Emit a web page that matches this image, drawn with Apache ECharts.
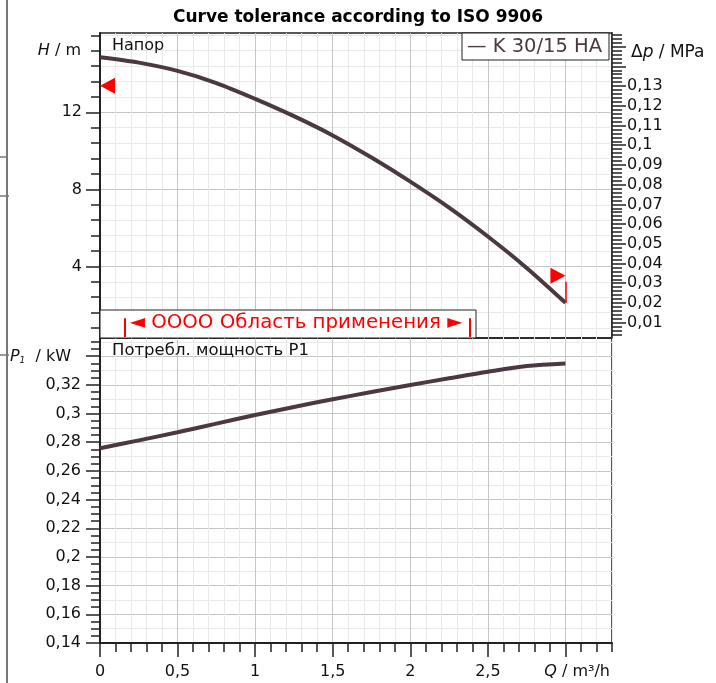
<!DOCTYPE html>
<html>
<head>
<meta charset="utf-8">
<script src="https://cdn.jsdelivr.net/npm/echarts@6/dist/echarts.min.js"></script>
<style>
    html, body { margin: 0; padding: 0; background: #fff; }
    #main { width: 716px; height: 683px; }
</style>
</head>
<body>
<div id="main"></div>
<script>
// pump curve
var flow = [0, 0.25, 0.5, 0.75, 1, 1.25, 1.5, 1.75, 2, 2.25, 2.5, 2.75, 3];
var head = [14.86, 14.58, 14.15, 13.52, 12.7, 11.8, 10.8, 9.65, 8.4, 7.05, 5.55, 3.92, 2.11];
var power = [0.2758, 0.2813, 0.287, 0.293, 0.299, 0.3046, 0.31, 0.315, 0.3199, 0.3246, 0.3292, 0.3332, 0.335];

// tolerance markers (ISO 9906) and application range
var tolFlow = [0, 3];
var tolHead = [13.38, 3.51];
var tolBarTop = 3.2;
var rangeFlow = [0.16, 2.38];
var rangeHead = [0.33, 1.31];

// tick labels
var qLabels = [0, 0.5, 1, 1.5, 2, 2.5];
var hLabels = [4, 8, 12];
var dpLabels = [0.01, 0.02, 0.03, 0.04, 0.05, 0.06, 0.07, 0.08, 0.09, 0.1, 0.11, 0.12, 0.13];
var pLabels = [0.14, 0.16, 0.18, 0.2, 0.22, 0.24, 0.26, 0.28, 0.3, 0.32];

var FONT = '"DejaVu Sans", Verdana, sans-serif';
var CURVE = '#4b3842';
var LIGHT = '#e9e9e9', DARK = '#c6c6c6', AXIS = '#222';
var H_MIN = 0.28, H_MAX = 16.12;
var DP_MIN = 0.00223, DP_MAX = 0.1569;
var P_MIN = 0.14, P_MAX = 0.3527;

function steps(a, b, s) {
    var out = [];
    for (var i = 0; a + i * s <= b + 1e-9; i++) out.push(+(a + i * s).toFixed(4));
    return out;
}
function comma(v) { return String(+(+v).toFixed(3)).replace('.', ','); }

var myChart = echarts.init(document.getElementById('main'));

function xAx(grid, ticks, len, split, color, extra) {
    var ax = {
        type: 'value', gridIndex: grid, position: 'bottom', min: 0, max: 3.3,
        axisLine: { show: false },
        axisTick: { show: len > 0, customValues: ticks, length: len, lineStyle: { color: AXIS, width: 1.5 } },
        axisLabel: { show: false },
        splitLine: { show: split, lineStyle: { color: color, width: 1 } }
    };
    return Object.assign(ax, extra || {});
}
function yAx(grid, pos, min, max, ticks, len, split, color, extra) {
    var ax = {
        type: 'value', gridIndex: grid, position: pos, min: min, max: max,
        axisLine: { show: false },
        axisTick: { show: true, customValues: ticks, length: len, lineStyle: { color: AXIS, width: 1.5 } },
        axisLabel: { show: false },
        splitLine: { show: split, lineStyle: { color: color, width: 1 } }
    };
    return Object.assign(ax, extra || {});
}
var labelStyle = { show: true, fontFamily: FONT, fontSize: 16, color: '#111', formatter: comma };

var option = {
    animation: false,
    title: {
        text: 'Curve tolerance according to ISO 9906',
        left: 'center', top: 4,
        textStyle: { fontFamily: FONT, fontSize: 17, fontWeight: 'bold', color: '#000' }
    },
    grid: [
        { left: 100, top: 33, width: 512, height: 305, show: true, borderColor: AXIS, borderWidth: 1.5 },
        { left: 100, top: 338, width: 512, height: 305, show: true, borderColor: AXIS, borderWidth: 1.5 }
    ],
    xAxis: [
        xAx(0, steps(0, 3.3, 0.1), 0, true, LIGHT),
        xAx(0, steps(0, 3, 0.5), 0, true, DARK),
        xAx(1, steps(0, 3.3, 0.1), 9, true, LIGHT),
        xAx(1, steps(0, 3, 0.5), 14, true, DARK, {
            axisLine: { show: true, lineStyle: { color: AXIS, width: 2 } },
            axisLabel: Object.assign({ customValues: qLabels, margin: 21 }, labelStyle)
        })
    ],
    yAxis: [
        yAx(0, 'left', H_MIN, H_MAX, steps(0.8, 16, 0.8), 9, true, LIGHT, {
            axisLine: { show: true, lineStyle: { color: AXIS, width: 2 } }
        }),
        yAx(0, 'left', H_MIN, H_MAX, hLabels, 14, true, DARK, {
            axisLabel: Object.assign({ customValues: hLabels, margin: 18 }, labelStyle)
        }),
        yAx(0, 'right', DP_MIN, DP_MAX, steps(0.004, 0.156, 0.002), 10, false, LIGHT, {
            axisLine: { show: true, lineStyle: { color: AXIS, width: 1.5 } }
        }),
        yAx(0, 'right', DP_MIN, DP_MAX, steps(0.01, 0.15, 0.01), 14, false, LIGHT, {
            axisLabel: Object.assign({ customValues: dpLabels, margin: 15 }, labelStyle)
        }),
        yAx(1, 'left', P_MIN, P_MAX, steps(0.145, 0.35, 0.005), 9, false, LIGHT, {
            axisLine: { show: true, lineStyle: { color: AXIS, width: 2 } }
        }),
        yAx(1, 'left', P_MIN, P_MAX, steps(0.15, 0.35, 0.01), 9, true, LIGHT),
        yAx(1, 'left', P_MIN, P_MAX, steps(0.14, 0.34, 0.02), 14, true, DARK, {
            axisLabel: Object.assign({ customValues: pLabels, margin: 19 }, labelStyle)
        })
    ],
    series: [{
        name: 'K 30/15 HA', type: 'line', xAxisIndex: 1, yAxisIndex: 0,
        data: flow.map(function(q, i) { return [q, head[i]]; }),
        smooth: 0.3, symbol: 'none', z: 3,
        lineStyle: { color: CURVE, width: 4 },
        markPoint: {
            symbol: 'triangle', symbolSize: [16, 15], silent: true,
            itemStyle: { color: '#ff0000' }, label: { show: false },
            data: [
                { coord: [tolFlow[0], tolHead[0]], symbolRotate: 90, symbolOffset: [7.5, 0] },
                { coord: [tolFlow[1], tolHead[1]], symbolRotate: -90, symbolOffset: [-7.5, 0] }
            ]
        },
        markLine: {
            symbol: ['none', 'none'], silent: true, label: { show: false },
            lineStyle: { color: '#ff0000', width: 1.5, type: 'solid' },
            data: [
                [{ coord: [tolFlow[1], head[head.length - 1]] }, { coord: [tolFlow[1], tolBarTop] }],
                [{ coord: [rangeFlow[0], rangeHead[0]], lineStyle: { width: 2 } }, { coord: [rangeFlow[0], rangeHead[1]] }],
                [{ coord: [rangeFlow[1], rangeHead[0]], lineStyle: { width: 2 } }, { coord: [rangeFlow[1], rangeHead[1]] }]
            ]
        }
    }, {
        name: 'P1', type: 'line', xAxisIndex: 3, yAxisIndex: 6,
        data: flow.map(function(q, i) { return [q, power[i]]; }),
        smooth: 0.3, symbol: 'none', z: 3,
        lineStyle: { color: CURVE, width: 4 }
    }],
    graphic: [
        // frame line at the left edge of the sheet
        { type: 'line', shape: { x1: 7, y1: 0, x2: 7, y2: 683 }, style: { stroke: '#777', lineWidth: 2 } },
        { type: 'line', shape: { x1: 0, y1: 157, x2: 8, y2: 157 }, style: { stroke: '#777', lineWidth: 1.5 } },
        { type: 'line', shape: { x1: 0, y1: 196, x2: 9, y2: 196 }, style: { stroke: '#777', lineWidth: 1.5 } },
        { type: 'line', shape: { x1: 0, y1: 355, x2: 9, y2: 355 }, style: { stroke: '#777', lineWidth: 1.5 } },
        // legend box
        { type: 'rect', z: 1, shape: { x: 462, y: 33, width: 147, height: 27 }, style: { fill: '#fff', stroke: AXIS, lineWidth: 1 } },
        { type: 'text', z: 5, x: 467, y: 47, style: { text: '— K 30/15 HA', font: '19.5px ' + FONT, fill: CURVE, verticalAlign: 'middle' } },
        // application range box
        { type: 'rect', z: 1, shape: { x: 100, y: 310, width: 376, height: 28 }, style: { fill: '#fff', stroke: AXIS, lineWidth: 1 } },
        { type: 'text', z: 5, x: 296, y: 323, style: { text: '◄ OOOO Область применения ►', font: '19.8px ' + FONT, fill: '#ff0000', align: 'center', verticalAlign: 'middle' } },
        // panel captions
        { type: 'text', z: 5, x: 112, y: 46, style: { text: 'Напор', font: '16px ' + FONT, fill: '#111', verticalAlign: 'middle' } },
        { type: 'text', z: 5, x: 112, y: 351, style: { text: 'Потребл. мощность P1', font: '16.5px ' + FONT, fill: '#111', verticalAlign: 'middle' } },
        // axis names
        { type: 'text', z: 5, x: 81, y: 51, style: {
            text: '{i|H} / m', align: 'right', verticalAlign: 'middle', font: '16px ' + FONT, fill: '#111',
            rich: { i: { fontStyle: 'italic', fontSize: 16, fontFamily: FONT } }
        } },
        { type: 'text', z: 5, x: 71, y: 357, style: {
            text: '{i|P}{s|1}  / kW', align: 'right', verticalAlign: 'middle', font: '16px ' + FONT, fill: '#111',
            rich: { i: { fontStyle: 'italic', fontSize: 16, fontFamily: FONT }, s: { fontStyle: 'italic', fontSize: 9, fontFamily: FONT, padding: [8, 0, 0, 0] } }
        } },
        { type: 'text', z: 5, x: 631, y: 53, style: {
            text: 'Δ{i|p} / MPa', verticalAlign: 'middle', font: '17px ' + FONT, fill: '#111',
            rich: { i: { fontStyle: 'italic', fontSize: 17, fontFamily: FONT } }
        } },
        { type: 'text', z: 5, x: 610, y: 672, style: {
            text: '{i|Q} / m³/h', align: 'right', verticalAlign: 'middle', font: '16px ' + FONT, fill: '#111',
            rich: { i: { fontStyle: 'italic', fontSize: 16, fontFamily: FONT } }
        } }
    ]
};

myChart.setOption(option);
</script>
</body>
</html>
